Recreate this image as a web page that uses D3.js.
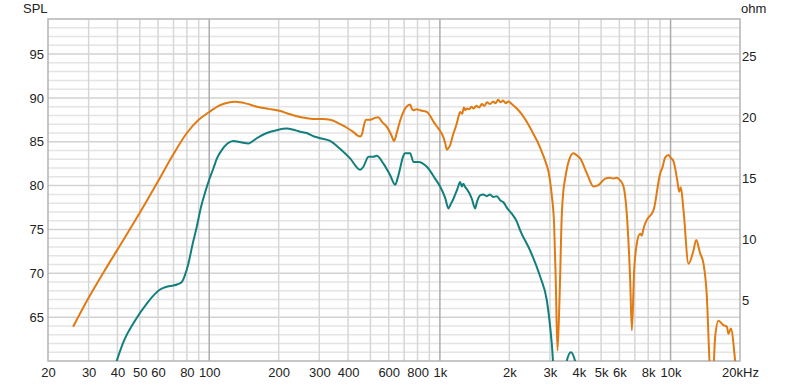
<!DOCTYPE html>
<html>
<head>
<meta charset="utf-8">
<script src="https://cdn.jsdelivr.net/npm/d3@7"></script>
<style>
  body { margin: 0; background: #fff; }
  svg { display: block; font-family: "Liberation Sans", Arial, sans-serif; }
</style>
</head>
<body>
<div id="chart"></div>
<script>
// frequency (Hz) / level (dB) pairs
const orangeFreq = [25.7,30,35,40,50,60,70,80,90,100,110,120,130,145,161,180,203,220,240,262,282,310,334,345,370,395,422,440,451,460,466,478,500,520,541,560,589,615,633,650,672,700,723,743,755,768,790,821,850,878,910,938,986,1010,1036,1055,1072,1090,1107,1140,1184,1205,1224,1250,1270,1290,1309,1340,1370,1400,1440,1480,1520,1560,1600,1650,1700,1740,1790,1830,1880,1930,1980,2050,2155,2270,2390,2520,2650,2790,2880,2956,3055,3128,3180,3234,3300,3378,3433,3491,3609,3795,3900,4057,4337,4634,4868,5204,5450,5654,5850,6045,6251,6501,6683,6795,6954,7140,7383,7500,7650,7894,8440,9018,9200,9476,9792,10000,10290,10710,10900,11080,11380,11960,12570,12910,13430,13890,14370,14750,15140,15600,16130,16950,17550,17820,18260,19060,19400];
const orangeSpl = [63.9,67.2,70.2,72.7,76.9,80.5,83.6,86.0,87.5,88.4,89.1,89.45,89.55,89.35,89.0,88.75,88.5,88.2,87.9,87.7,87.6,87.6,87.5,87.4,87.0,86.6,86.1,85.7,85.6,85.9,86.6,87.5,87.5,87.7,87.8,87.3,86.7,85.8,85.1,86.0,87.4,88.6,89.1,89.25,88.8,88.6,88.7,88.6,88.5,88.4,87.9,87.3,86.5,86.1,85.5,84.8,84.1,84.3,84.6,85.8,87.1,87.9,88.4,88.2,88.9,88.6,88.8,88.7,89.0,88.8,89.1,88.9,89.3,89.1,89.5,89.3,89.6,89.4,89.8,89.5,89.7,89.4,89.6,89.3,88.8,88.1,87.2,86.1,85.0,83.6,82.6,81.6,78.9,75.5,69,61.2,67,76.8,79.5,80.8,82.7,83.7,83.5,83.1,81.4,79.9,80.05,80.8,80.9,80.8,80.9,80.6,79.9,75.7,69.2,63.5,70.4,73.4,74.5,74.3,75.2,76.1,77.2,81.4,82.0,83.2,83.5,83.2,82.8,80.5,79.3,79.8,77.2,71.1,72.6,73.8,72.3,71.1,67.3,60,56,62.7,64.6,64.1,63.9,63.1,63.7,60,58];

const tealFreq = [36,39.7,43,46.9,53.6,61.2,66,69.9,73,76,78.5,81.2,84.5,88.3,92,95.9,100,104.2,108,113.3,120,127.3,137,147.8,155,160.7,177.6,195,216.8,230,247.6,264.8,285,302.6,334,369,408,451,466,490,515,532,569,608,640,655,672,690,706,743,768,807,878,953,1002,1054,1089,1110,1145,1190,1224,1245,1265,1290,1309,1376,1421,1450,1494,1540,1597,1650,1700,1765,1830,1885,1960,2049,2155,2228,2461,2722,2909,3055,3160,3400,3550,3697,3857,4100];
const tealSpl = [56,60,62.5,64.3,66.55,68.15,68.5,68.6,68.75,69.0,69.8,71.1,73.2,75.3,77.5,79.2,80.7,81.95,83.1,84.05,84.8,85.1,84.95,84.8,85.1,85.4,86.0,86.3,86.5,86.4,86.15,86.0,85.6,85.4,85.1,84.2,83.1,81.8,82.15,83.3,83.3,83.4,82.5,81.2,80.1,80.8,81.95,83.2,83.7,83.7,82.7,82.7,82.15,80.8,79.9,78.6,77.4,77.8,78.5,79.6,80.4,79.9,80.2,79.8,79.6,78.5,77.4,78.2,78.9,79.0,78.8,79.0,78.7,78.8,78.3,78.1,77.4,76.8,75.9,74.9,72.6,69.6,66.9,62.0,57,56,60,61.0,60,56];

const xTicks = [20,30,40,50,60,80,100,200,300,400,600,800,1000,2000,3000,4000,5000,6000,8000,10000,20000];
const xTickLabels = ["20","30","40","50","60","80","100","200","300","400","600","800","1k","2k","3k","4k","5k","6k","8k","10k","20kHz"];
const splTicks = [65,70,75,80,85,90,95];
const ohmTicks = [5,10,15,20,25];

const width = 800, height = 387;
const margin = {top: 19, right: 60, bottom: 26, left: 48};
const x0 = margin.left, x1 = width - margin.right, y0 = height - margin.bottom, y1 = margin.top;

const svg = d3.select("#chart").append("svg")
    .attr("width", width)
    .attr("height", height);

const x = d3.scaleLog().domain([20, 20000]).range([x0, x1]);
const y = d3.scaleLinear().domain([60, 99]).range([y0, y1]);
const yOhm = d3.scaleLinear().domain([0, 28.1]).range([y0, y1]);

// grid
const minorY = d3.range(61, 99).filter(v => v % 5 !== 0);
svg.append("g").selectAll("line").data(minorY).join("line")
    .attr("x1", x0).attr("x2", x1)
    .attr("y1", d => y(d)).attr("y2", d => y(d))
    .attr("stroke", "#e4e4e4").attr("stroke-width", 1.5);
svg.append("g").selectAll("line").data(splTicks).join("line")
    .attr("x1", x0).attr("x2", x1)
    .attr("y1", d => y(d)).attr("y2", d => y(d))
    .attr("stroke", "#d2d2d2").attr("stroke-width", 1.5);

const vLines = [];
[10, 100, 1000, 10000].forEach(dec => {
    for (let m = 1; m <= 9; m++) {
        const f = dec * m;
        if (f > 20 && f < 20000) vLines.push(f);
    }
});
svg.append("g").selectAll("line").data(vLines).join("line")
    .attr("x1", d => x(d)).attr("x2", d => x(d))
    .attr("y1", y1).attr("y2", y0)
    .attr("stroke", d => [100, 1000, 10000].includes(d) ? "#acacac" : "#d6d6d6")
    .attr("stroke-width", 1.5);

// frame
svg.append("rect")
    .attr("x", x0).attr("y", y1)
    .attr("width", x1 - x0).attr("height", y0 - y1)
    .attr("fill", "none").attr("stroke", "#b4b4b4").attr("stroke-width", 1.5);

// axes labels
svg.append("g")
    .attr("transform", `translate(0,${y0})`)
    .call(d3.axisBottom(x).tickValues(xTicks).tickFormat((d, i) => xTickLabels[i]).tickSize(0).tickPadding(7))
    .call(g => g.select(".domain").remove())
    .selectAll("text").attr("font-size", 13).attr("fill", "#222");

svg.append("g")
    .attr("transform", `translate(${x0},0)`)
    .call(d3.axisLeft(y).tickValues(splTicks).tickSize(0).tickPadding(4))
    .call(g => g.select(".domain").remove())
    .selectAll("text").attr("font-size", 13).attr("fill", "#222");

svg.append("g")
    .attr("transform", `translate(${x1},0)`)
    .call(d3.axisRight(yOhm).tickValues(ohmTicks).tickSize(0).tickPadding(2))
    .call(g => g.select(".domain").remove())
    .selectAll("text").attr("font-size", 13).attr("fill", "#222");

svg.append("text").attr("x", 23).attr("y", 13).attr("font-size", 13).attr("fill", "#222").text("SPL");
svg.append("text").attr("x", 741).attr("y", 13).attr("font-size", 13).attr("fill", "#222").text("ohm");

// curves
svg.append("clipPath").attr("id", "plotClip")
  .append("rect").attr("x", x0).attr("y", y1).attr("width", x1 - x0).attr("height", y0 - y1);

const line = d3.line()
    .x(d => x(d[0]))
    .y(d => y(d[1]))
    .curve(d3.curveMonotoneX);

const plot = svg.append("g").attr("clip-path", "url(#plotClip)");
plot.append("path")
    .datum(tealFreq.map((f, i) => [f, tealSpl[i]]))
    .attr("d", line)
    .attr("fill", "none").attr("stroke", "#137f7d").attr("stroke-width", 2);
plot.append("path")
    .datum(orangeFreq.map((f, i) => [f, orangeSpl[i]]))
    .attr("d", line)
    .attr("fill", "none").attr("stroke", "#e07a12").attr("stroke-width", 2);
</script>
</body>
</html>
